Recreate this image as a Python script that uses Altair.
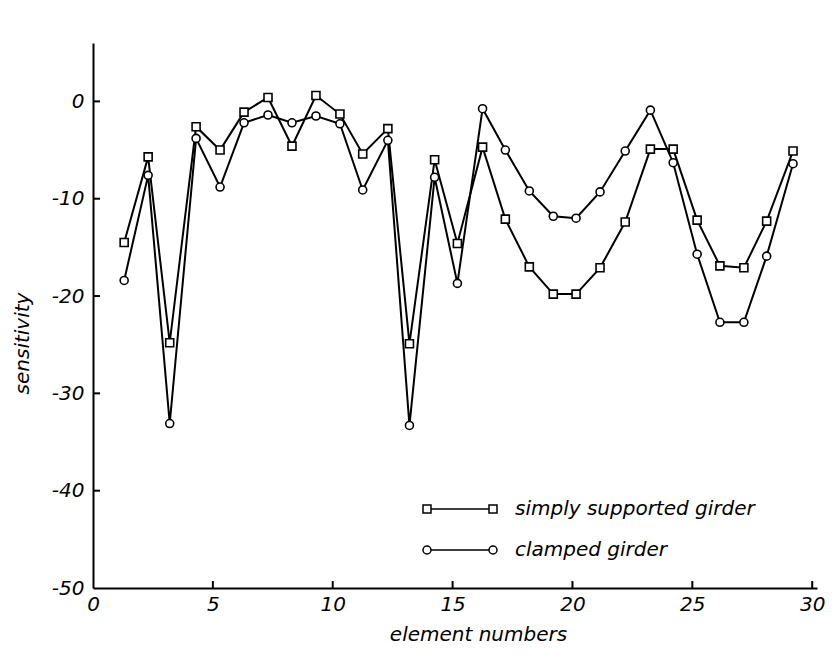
import altair as alt
import pandas as pd

# ---- data ----
series_names = ["simply supported girder", "clamped girder"]
x_pos = [1.3, 2.3, 3.2, 4.3, 5.3, 6.3, 7.3, 8.3, 9.3, 10.3, 11.25, 12.3, 13.2, 14.25,
         15.2, 16.25, 17.2, 18.2, 19.2, 20.15, 21.15, 22.2, 23.25, 24.2, 25.2, 26.15,
         27.15, 28.1, 29.2]
simply = [-14.5, -5.7, -24.8, -2.6, -5.0, -1.1, 0.4, -4.6, 0.6, -1.3, -5.4, -2.8, -24.9,
          -6.0, -14.6, -4.7, -12.1, -17.0, -19.8, -19.8, -17.1, -12.4, -4.9, -4.9, -12.2,
          -16.9, -17.1, -12.3, -5.1]
clamped = [-18.4, -7.6, -33.1, -3.8, -8.8, -2.2, -1.4, -2.2, -1.5, -2.3, -9.1, -4.0, -33.3,
           -7.8, -18.7, -0.75, -5.0, -9.2, -11.8, -12.0, -9.3, -5.1, -0.9, -6.3, -15.7,
           -22.7, -22.7, -15.9, -6.4]
x_ticks = [0, 5, 10, 15, 20, 25, 30]
y_ticks = [-50, -40, -30, -20, -10, 0]

rows = []
for name, vals in zip(series_names, [simply, clamped]):
    for xv, yv in zip(x_pos, vals):
        rows.append({"x": xv, "value": yv, "series": name})
df = pd.DataFrame(rows)

W, H = 724, 545
FONT = "DejaVu Sans"

xenc = alt.X("x:Q", scale=alt.Scale(domain=[0, 30.2], nice=False, zero=False),
             axis=alt.Axis(values=x_ticks, ticks=False, grid=False, labelFlush=False,
                           labelOverlap=False, labelPadding=6, labelFontSize=20,
                           labelFont=FONT, labelFontStyle="italic", labelColor="black",
                           domainColor="black", domainWidth=2,
                           title="element numbers", titleFont=FONT, titleFontSize=20,
                           titleFontStyle="italic", titleFontWeight="normal",
                           titleColor="black", titlePadding=10, titleX=385))
yenc = alt.Y("value:Q", scale=alt.Scale(domain=[-50, 6], nice=False, zero=False),
             axis=alt.Axis(values=y_ticks, ticks=False, grid=False, labelFlush=False,
                           labelOverlap=False, labelPadding=9, labelFontSize=20,
                           labelFont=FONT, labelFontStyle="italic", labelColor="black",
                           labelExpr="toString(datum.value)",
                           domainColor="black", domainWidth=2,
                           title="sensitivity", titleFont=FONT, titleFontSize=20,
                           titleFontStyle="italic", titleFontWeight="normal",
                           titleColor="black", titleX=-71, titleY=300,
                           titleBaseline="middle", titleAlign="center"))

base = alt.Chart(df)

lines = base.mark_line(color="black", strokeWidth=2).encode(
    x=xenc, y=yenc, detail="series:N")

points = base.mark_point(fill="white", stroke="black", strokeWidth=1.6, opacity=1,
                         fillOpacity=1, size=64).encode(
    x=xenc, y=yenc,
    shape=alt.Shape("series:N", scale=alt.Scale(domain=series_names, range=["square", "circle"]),
                    legend=None))

# legend symbols: marker - line - marker
a = 0.108
sq_path = (f"M-1,-{a}L{-1+2*a:.3f},-{a}L{-1+2*a:.3f},{a}L-1,{a}Z"
           f"M{-1+2*a:.3f},0L{1-2*a:.3f},0"
           f"M{1-2*a:.3f},-{a}L1,-{a}L1,{a}L{1-2*a:.3f},{a}Z")
ci_path = (f"M{-1+2*a:.3f},0A{a},{a},0,1,1,-1,0A{a},{a},0,1,1,{-1+2*a:.3f},0Z"
           f"M{-1+2*a:.3f},0L{1-2*a:.3f},0"
           f"M1,0A{a},{a},0,1,1,{1-2*a:.3f},0A{a},{a},0,1,1,1,0Z")

legend_carrier = base.mark_point(stroke="black", strokeWidth=1.5, opacity=1).encode(
    x=xenc, y=yenc,
    shape=alt.Shape("series:N",
                    scale=alt.Scale(domain=series_names, range=[sq_path, ci_path]),
                    legend=alt.Legend(title=None, orient="none", legendX=329, legendY=456,
                                      symbolSize=74 * 74, clipHeight=20, rowPadding=21,
                                      labelOffset=17, labelFont=FONT, labelFontSize=20,
                                      labelFontStyle="italic", labelColor="black",
                                      labelLimit=0,
                                      symbolStrokeColor="black", symbolStrokeWidth=1.5,
                                      symbolFillColor="white"))
).transform_filter("false")

ytick_df = pd.DataFrame({"value": [-40, -30, -20, -10, 0]})
xtick_df = pd.DataFrame({"x": [5, 10, 15, 20, 25, 30]})
yticks = alt.Chart(ytick_df).mark_rule(color="black", strokeWidth=2).encode(
    y=yenc, x=alt.value(0), x2=alt.value(7))
xticks = alt.Chart(xtick_df).mark_rule(color="black", strokeWidth=2).encode(
    x=xenc, y=alt.value(H), y2=alt.value(H - 7))

chart = alt.layer(lines, points, legend_carrier, yticks, xticks).resolve_scale(
    shape="independent"
).properties(
    width=W, height=H, autosize=alt.AutoSizeParams(type="none"),
    padding={"left": 85, "top": 35, "right": 12, "bottom": 65},
    background="white"
).configure_view(stroke=None)

chart.save("out.html", embed_options={"renderer": "svg", "actions": False})
